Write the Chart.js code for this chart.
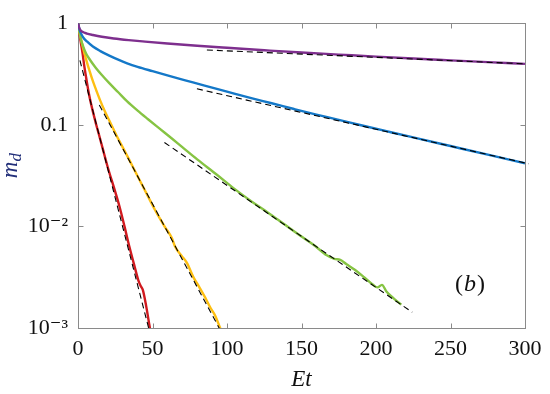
<!DOCTYPE html>
<html>
<head>
<meta charset="utf-8">
<script src="https://cdn.jsdelivr.net/npm/chart.js@4.4.1/dist/chart.umd.min.js"></script>
<style>
  html, body { margin: 0; padding: 0; background: #fff; }
  #wrap { width: 550px; height: 394px; position: relative; }
</style>
</head>
<body>
<div id="wrap"><canvas id="decayChart"></canvas></div>
<script>
// axis ticks
const xTickValues = [0, 50, 100, 150, 200, 250, 300];
const xTickLabels = ["0", "50", "100", "150", "200", "250", "300"];
const yTickValues = [0.001, 0.01, 0.1, 1];
const yTickLabels = ["10\u207B\u00B3", "10\u207B\u00B2", "0.1", "1"];

// measured curves (Et, m_d)
const purpleT = [0, 0.7, 1.5, 3, 6, 10, 16, 24, 34, 45, 60, 80, 100, 125, 150, 175, 200, 225, 250, 275, 300];
const purpleM = [1, 0.912, 0.861, 0.822, 0.791, 0.766, 0.736, 0.708, 0.682, 0.659, 0.631, 0.6, 0.573, 0.542, 0.514, 0.491, 0.469, 0.449, 0.431, 0.414, 0.398];

const blueT = [0, 1, 2, 3.5, 6, 10, 15, 21, 27, 33, 40, 50, 60, 72, 85, 100, 115, 130, 145, 160, 175, 190, 210, 230, 250, 275, 300];
const blueM = [1, 0.871, 0.794, 0.724, 0.661, 0.589, 0.531, 0.479, 0.437, 0.403, 0.372, 0.337, 0.306, 0.274, 0.243, 0.212, 0.185, 0.163, 0.143, 0.126, 0.112, 0.099, 0.0845, 0.0723, 0.0618, 0.0508, 0.0418];

const greenT = [0, 1, 2, 3.5, 5.5, 8, 12, 16, 21, 27, 33, 40, 47, 55, 63, 70, 80, 93, 105, 116, 128, 138, 149, 158, 167, 172, 176, 180, 186, 192, 198, 201, 204, 207, 212, 217];
const greenM = [1, 0.813, 0.692, 0.589, 0.501, 0.437, 0.363, 0.309, 0.257, 0.209, 0.17, 0.138, 0.1135, 0.0912, 0.0733, 0.0603, 0.0457, 0.0324, 0.0234, 0.0178, 0.0135, 0.0106, 0.00813, 0.00661, 0.00519, 0.00479, 0.00468, 0.00427, 0.00372, 0.00316, 0.00266, 0.00251, 0.00266, 0.00229, 0.00195, 0.0017];

const yellowT = [0, 1, 2, 3, 4.2, 6, 8, 10, 12.5, 15, 18, 21, 26, 31.6, 36, 42.8, 47, 51.7, 55, 58.5, 63, 65.2, 69.7, 73, 77.5, 80.9, 85.3, 88.7, 92, 95.4, 97];
const yellowM = [1, 0.822, 0.7, 0.603, 0.513, 0.412, 0.331, 0.269, 0.214, 0.172, 0.136, 0.11, 0.0776, 0.0543, 0.0407, 0.026, 0.0197, 0.0145, 0.0119, 0.0098, 0.00767, 0.0063, 0.0051, 0.0044, 0.00315, 0.0026, 0.002, 0.0016, 0.00133, 0.001, 0.00088];

const redT = [0, 1, 2, 3.1, 4.2, 5.4, 7, 8.7, 10.5, 12.1, 14.5, 16.6, 20.4, 24.4, 27.8, 31.2, 34.5, 37.9, 40.5, 42, 43.5, 45.7, 47.9, 49.5];
const redM = [1, 0.776, 0.631, 0.501, 0.38, 0.295, 0.214, 0.162, 0.126, 0.102, 0.0759, 0.0582, 0.0363, 0.0234, 0.0158, 0.01, 0.0063, 0.00407, 0.00295, 0.0026, 0.00237, 0.00166, 0.00107, 0.00079];

// exponential fits (dashed)
const purpleFitT = [86.5, 300];
const purpleFitM = [0.545, 0.398];
const blueFitT = [79.8, 302.6];
const blueFitM = [0.226, 0.0413];
const greenFitT = [58, 224.3];
const greenFitM = [0.067, 0.00143];
const yellowFitT = [14.3, 97.5];
const yellowFitM = [0.157, 0.00084];
const redFitT = [1.3, 49.5];
const redFitM = [0.43, 0.00076];

const serif = "'Liberation Serif', 'DejaVu Serif', serif";
const frameColor = "#8a8a8a";

function pts(ts, ms) {
  return ts.map((t, i) => ({ x: t, y: ms[i] }));
}

function curve(ts, ms, color) {
  return {
    data: pts(ts, ms),
    borderColor: color,
    borderWidth: 2.4,
    pointRadius: 0,
    cubicInterpolationMode: "monotone",
    order: 2,
  };
}

function fit(ts, ms, noClip) {
  let ds = {
    data: pts(ts, ms),
    borderColor: "#000",
    borderWidth: 1.1,
    borderDash: [6, 4],
    pointRadius: 0,
    order: 1,
  };
  if (noClip) ds.clip = false;
  return ds;
}

// frame box and inward ticks, then the free text
const frameTicks = {
  id: "frameTicks",
  beforeDatasetsDraw(chart) {
    const { ctx, chartArea: a, scales } = chart;
    const L = Math.round(a.left) + 0.5, R = Math.round(a.right) + 0.5;
    const T = Math.round(a.top) + 0.5, B = Math.round(a.bottom) + 0.5;
    ctx.save();
    ctx.strokeStyle = frameColor;
    ctx.lineWidth = 1;
    ctx.strokeRect(L, T, R - L, B - T);
    ctx.beginPath();
    xTickValues.forEach((v) => {
      let px = Math.round(scales.x.getPixelForValue(v)) + 0.5;
      ctx.moveTo(px, B); ctx.lineTo(px, B - 5);
      ctx.moveTo(px, T); ctx.lineTo(px, T + 5);
    });
    yTickValues.forEach((v) => {
      let py = Math.round(scales.y.getPixelForValue(v)) + 0.5;
      ctx.moveTo(L, py); ctx.lineTo(L + 5, py);
      ctx.moveTo(R, py); ctx.lineTo(R - 5, py);
    });
    ctx.stroke();
    ctx.restore();
  },
  afterDraw(chart) {
    const { ctx, chartArea: a } = chart;
    ctx.save();
    // y title m_d
    ctx.fillStyle = "#23307a";
    ctx.translate(17, (a.top + a.bottom) / 2 - 10);
    ctx.rotate(-Math.PI / 2);
    ctx.font = "italic 23px " + serif;
    let wm = ctx.measureText("m").width;
    ctx.font = "italic 17px " + serif;
    let wd = ctx.measureText("d").width;
    let x0 = -(wm + wd) / 2;
    ctx.textBaseline = "alphabetic";
    ctx.font = "italic 23px " + serif;
    ctx.fillText("m", x0, 0);
    ctx.font = "italic 17px " + serif;
    ctx.fillText("d", x0 + wm, 4);
    ctx.restore();

    // panel label (b)
    ctx.save();
    ctx.fillStyle = "#111";
    ctx.textBaseline = "middle";
    let px = 455, py = 285;
    ctx.font = "24px " + serif;
    ctx.fillText("(", px, py);
    px += ctx.measureText("(").width;
    ctx.font = "italic 24px " + serif;
    ctx.fillText("b", px + 1, py);
    px += ctx.measureText("b").width + 2;
    ctx.font = "24px " + serif;
    ctx.fillText(")", px, py);
    ctx.restore();
  },
};

const ctx = document.getElementById("decayChart").getContext("2d");
const decayChart = new Chart(ctx, {
  type: "line",
  data: {
    datasets: [
      curve(purpleT, purpleM, "#7e2f8e"),
      curve(blueT, blueM, "#1478c8"),
      curve(greenT, greenM, "#86c443"),
      curve(yellowT, yellowM, "#fdbf12"),
      curve(redT, redM, "#d01a1f"),
      fit(purpleFitT, purpleFitM),
      fit(blueFitT, blueFitM, true),
      fit(greenFitT, greenFitM),
      fit(yellowFitT, yellowFitM),
      fit(redFitT, redFitM),
    ],
  },
  options: {
    responsive: true,
    maintainAspectRatio: false,
    animation: false,
    layout: { padding: { top: 21, right: 25, left: 0, bottom: 0 } },
    plugins: {
      legend: { display: false },
      tooltip: { enabled: false },
    },
    scales: {
      x: {
        type: "linear",
        min: 0,
        max: 300,
        grid: { display: false, drawTicks: false },
        border: { display: false },
        afterBuildTicks: (s) => { s.ticks = xTickValues.map((v) => ({ value: v })); },
        afterFit: (s) => { s.height = 66; },
        ticks: {
          padding: 8,
          color: "#111",
          font: { family: serif, size: 22 },
          maxRotation: 0,
          autoSkip: false,
          callback: (v, i) => xTickLabels[i],
        },
        title: {
          display: true,
          text: "Et",
          color: "#111",
          font: { family: serif, size: 23, style: "italic" },
          padding: { top: 0, bottom: 0 },
        },
      },
      y: {
        type: "logarithmic",
        min: 0.001,
        max: 1,
        grid: { display: false, drawTicks: false },
        border: { display: false },
        afterBuildTicks: (s) => { s.ticks = yTickValues.map((v) => ({ value: v })); },
        afterFit: (s) => { s.width = 78; },
        ticks: {
          padding: 10,
          color: "#111",
          font: { family: serif, size: 22 },
          autoSkip: false,
          callback: (v, i) => yTickLabels[i],
        },
      },
    },
  },
  plugins: [frameTicks],
});
</script>
</body>
</html>
